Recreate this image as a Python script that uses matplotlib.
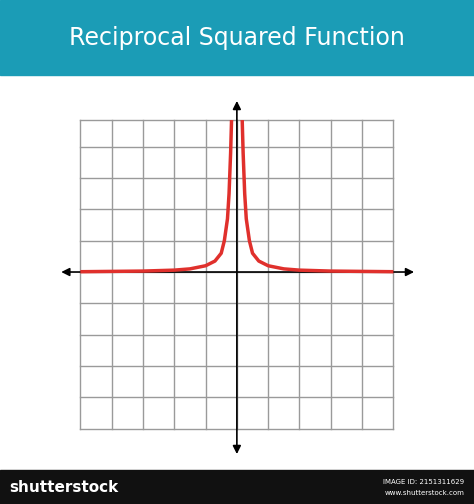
import matplotlib.pyplot as plt
from matplotlib.patches import Rectangle

TITLE = "Reciprocal Squared Function"

# curve points (grid units)
left_x = [-5, -4, -3, -2, -1.5, -1, -0.7, -0.5, -0.4, -0.3, -0.25, -0.2, -0.17]
left_y = [0.01, 0.02, 0.03, 0.06, 0.1, 0.2, 0.35, 0.6, 1.0, 1.7, 2.5, 3.8, 4.85]
right_x = [0.17, 0.2, 0.25, 0.3, 0.4, 0.5, 0.7, 1, 1.5, 2, 3, 4, 5]
right_y = [4.85, 3.8, 2.5, 1.7, 1.0, 0.6, 0.35, 0.2, 0.1, 0.06, 0.03, 0.02, 0.01]

grid_ticks = list(range(-5, 6))

fig = plt.figure(figsize=(4.74, 5.04), dpi=100)

# banner
fig.patches.append(Rectangle((0, 1 - 75 / 504), 1, 75 / 504, transform=fig.transFigure,
                             color="#1b9cb6", zorder=0))
fig.text(0.5, 1 - 38 / 504, TITLE, color="white", fontsize=17, ha="center", va="center")

# bottom strip
fig.patches.append(Rectangle((0, 0), 1, 34 / 504, transform=fig.transFigure,
                             color="#111111", zorder=0))
fig.text(0.02, 17 / 504, "shutterstock", color="white", fontsize=11, fontweight="bold",
         va="center")
fig.text(0.98, 22 / 504, "IMAGE ID: 2151311629", color="white", fontsize=5,
         ha="right", va="center")
fig.text(0.98, 11 / 504, "www.shutterstock.com", color="white", fontsize=5,
         ha="right", va="center")

ax = fig.add_axes([55 / 474, 1 - 460 / 504, 365 / 474, 365 / 504])
ax.set_xlim(-5.81, 5.85)
ax.set_ylim(-6.0, 5.65)
ax.set_axis_off()

g_top = 4.86
for t in grid_ticks:
    ax.plot([t, t], [-5, g_top], color="#9a9a9a", lw=1, zorder=1)
for t in grid_ticks[:-1] + [g_top]:
    ax.plot([-5, 5], [t, t], color="#9a9a9a", lw=1, zorder=1)

arrow = dict(arrowstyle="<|-|>", color="black", lw=1.2, mutation_scale=12)
ax.annotate("", xy=(5.75, 0), xytext=(-5.7, 0), arrowprops=arrow, zorder=3)
ax.annotate("", xy=(0, 5.55), xytext=(0, -5.9), arrowprops=arrow, zorder=3)

ax.plot(left_x, left_y, color="#e0302c", lw=2.5, zorder=4, solid_capstyle="butt")
ax.plot(right_x, right_y, color="#e0302c", lw=2.5, zorder=4, solid_capstyle="butt")

fig.savefig("out.png", dpi=100)
